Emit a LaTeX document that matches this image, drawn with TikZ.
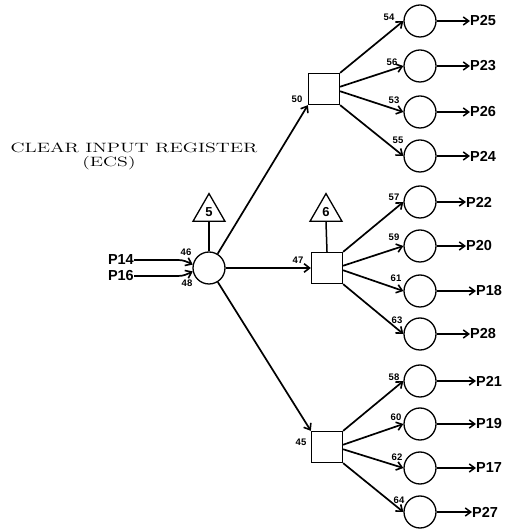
\documentclass[tikz,border=0pt]{standalone}
\usepackage{fontspec}
\newfontfamily\lab{Liberation Sans}
\usetikzlibrary{arrows.meta,shapes.geometric}
\begin{document}
\begin{tikzpicture}[x=1pt,y=1pt,
  rc/.style={circle,draw,line width=1.3pt,minimum size=32pt,inner sep=0pt},
  sq/.style={rectangle,draw,line width=1.3pt,minimum size=31pt,inner sep=0pt},
  tri/.style={regular polygon,regular polygon sides=3,draw,line width=1.3pt,minimum size=37pt,inner sep=0pt,anchor=south,font=\lab\bfseries\fontsize{13}{13}\selectfont},
  num/.style={font=\lab\bfseries\fontsize{9.5}{9.5}\selectfont,inner sep=0pt},
  plab/.style={font=\lab\bfseries\fontsize{14.5}{14.5}\selectfont,inner sep=0pt,anchor=west},
  ilab/.style={font=\lab\bfseries\fontsize{14.5}{14.5}\selectfont,inner sep=0pt,anchor=east},
  conn/.style={line width=1.7pt,-{Straight Barb[length=5.5pt,width=8.5pt,line width=1.6pt]}},
  outarr/.style={line width=1.2pt,-{Straight Barb[length=5.5pt,width=8pt,line width=1.5pt]}},
  stem/.style={line width=1.5pt},
  ttl/.style={font=\fontsize{13.5}{13.5}\selectfont,inner sep=0pt}
]
\useasboundingbox (0,0) rectangle (504,530);

% title
\node[ttl] (t1) at (134,382) {\scalebox{1.47}[1]{\addfontfeatures{LetterSpace=30}CLEAR INPUT REGISTER}};
\node[ttl] (t2) at (109,367) {\scalebox{1.47}[1]{\addfontfeatures{LetterSpace=30}(ECS)}};

% central circle and inputs
\node[rc] (c0) at (209,262) {};
\node[tri] (tr5) at (209,308) {5};
\draw[stem] (tr5.south) -- (c0.north);
\node[ilab] (p14) at (134,270) {P14};
\node[ilab] (p16) at (134,254) {P16};
\draw[conn] (p14.east) -- ++(44,0) to[out=0,in=155] (c0.168);
\draw[conn] (p16.east) -- ++(44,0) to[out=0,in=205] (c0.192);
\node[num] at (186,278) {46};
\node[num] at (187,247) {48};

% squares
\node[sq] (sq1) at (324,441) {};
\node[sq] (sq2) at (327,262) {};
\node[sq] (sq3) at (327,83) {};
\node[tri] (tr6) at (326,308) {6};
\draw[stem] (tr6.south) -- (sq2.north);
\draw[conn] (c0) -- (sq1.south west);
\draw[conn] (c0) -- (sq2.west);
\draw[conn] (c0) -- (sq3.north west);
\node[num] at (297,431) {50};
\node[num] at (298,270) {47};
\node[num] at (301,88) {45};

% right circles
\foreach \n/\y in {54/509,56/464,53/418,55/374,57/328,59/284,61/239,63/196,58/149,60/106,62/62,64/18}
  \node[rc] (r\n) at (420,\y) {};

\draw[conn] (sq1.north east) -- (r54.west);
\draw[conn] (sq1.8) -- (r56.west);
\draw[conn] (sq1.-8) -- (r53.west);
\draw[conn] (sq1.south east) -- (r55.west);
\draw[conn] (sq2.north east) -- (r57.west);
\draw[conn] (sq2.8) -- (r59.west);
\draw[conn] (sq2.-8) -- (r61.west);
\draw[conn] (sq2.south east) -- (r63.west);
\draw[conn] (sq3.north east) -- (r58.west);
\draw[conn] (sq3.8) -- (r60.west);
\draw[conn] (sq3.-8) -- (r62.west);
\draw[conn] (sq3.south east) -- (r64.west);

\node[num] at (389,513) {54};
\node[num] at (392,468) {56};
\node[num] at (394,430) {53};
\node[num] at (398,390) {55};
\node[num] at (394,333) {57};
\node[num] at (394,293) {59};
\node[num] at (396,252) {61};
\node[num] at (397,210) {63};
\node[num] at (394,153) {58};
\node[num] at (396,113) {60};
\node[num] at (397,73) {62};
\node[num] at (399,30) {64};

% outputs
\foreach \n/\p/\x/\y in {54/P25/470/509,56/P23/470/464,53/P26/470/418,55/P24/470/374,57/P22/466/328,59/P20/466/284,61/P18/476/239,63/P28/470/196,58/P21/476/149,60/P19/476/106,62/P17/476/62,64/P27/472/18}{
  \node[plab] (o\n) at (\x,\y) {\p};
  \draw[outarr] (r\n.east) -- (o\n.west);
}
\end{tikzpicture}
\end{document}
